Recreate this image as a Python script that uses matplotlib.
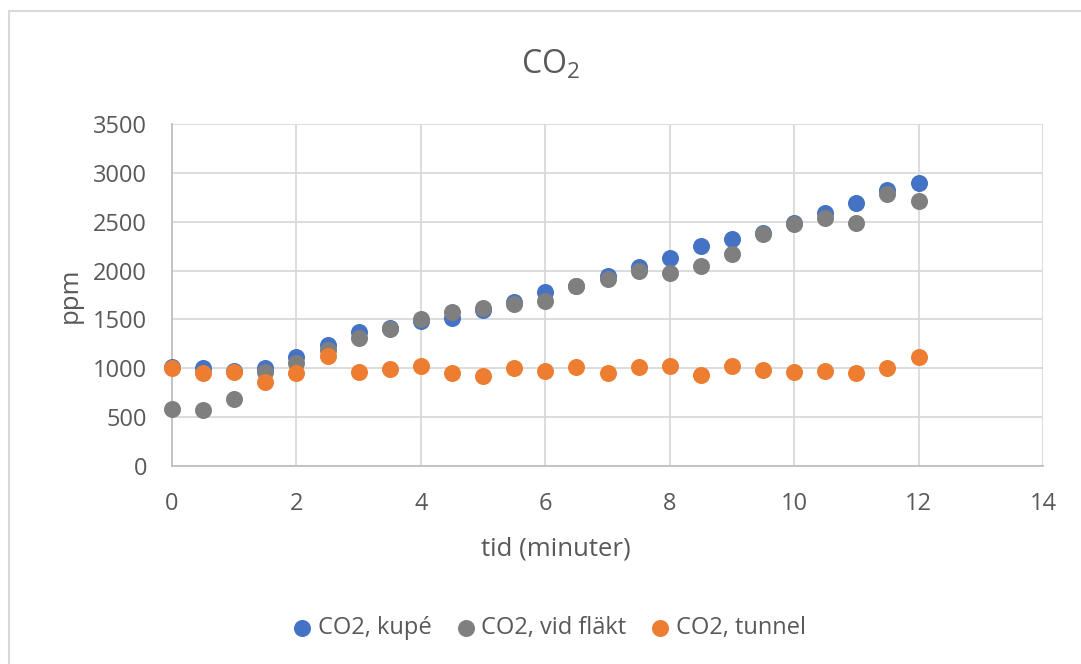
import numpy as np
import matplotlib
matplotlib.use("Agg")
import matplotlib.pyplot as plt
from matplotlib.patches import Rectangle

# time in minutes
tid = [0, 0.5, 1, 1.5, 2, 2.5, 3, 3.5, 4, 4.5, 5, 5.5, 6, 6.5,
       7, 7.5, 8, 8.5, 9, 9.5, 10, 10.5, 11, 11.5, 12]

# CO2 readings (ppm)
co2_kupe = [1010, 1000, 970, 1008, 1117, 1236, 1372, 1410, 1485, 1519, 1593, 1679, 1781, 1840,
            1944, 2036, 2132, 2251, 2325, 2380, 2482, 2591, 2690, 2826, 2894]
co2_flakt = [582, 572, 688, 964, 1049, 1185, 1311, 1406, 1502, 1574, 1614, 1655, 1685, 1839,
             1910, 1992, 1978, 2043, 2166, 2377, 2479, 2540, 2489, 2779, 2717]
co2_tunnel = [1008, 950, 964, 861, 950, 1127, 964, 994, 1022, 947, 923, 998, 970, 1015,
              947, 1015, 1025, 932, 1025, 981, 964, 970, 950, 998, 1117]

series_labels = ["CO2, kupé", "CO2, vid fläkt", "CO2, tunnel"]
x_ticks = np.arange(0, 15, 2)
y_ticks = np.arange(0, 3501, 500)

TEXT = "#595959"
plt.rcParams["font.family"] = ["Open Sans", "DejaVu Sans"]
plt.rcParams["mathtext.fontset"] = "custom"
plt.rcParams["mathtext.rm"] = "Open Sans"
plt.rcParams["mathtext.default"] = "regular"

W, H = 1081, 664
fig = plt.figure(figsize=(W / 100, H / 100), dpi=100)
ax = fig.add_axes([172 / W, 1 - 466 / H, (1043 - 172) / W, (466 - 124) / H])

# chart area border (only top/left visible in the reference)
fig.patches.append(Rectangle((9 / W, -0.5), 1.5, 1.5 - 11 / H, transform=fig.transFigure,
                             fill=False, edgecolor="#d9d9d9", linewidth=1.5, zorder=0))

colors = ["#4472C4", "#7F7F7F", "#ED7D31"]
for vals, lab, col in zip([co2_kupe, co2_flakt, co2_tunnel], series_labels, colors):
  ax.scatter(tid, vals, s=150, color=col, label=lab, linewidths=0, zorder=3, clip_on=False)

ax.set_xlim(0, 14)
ax.set_ylim(0, 3500)
ax.set_xticks(x_ticks)
ax.set_yticks(y_ticks)
ax.grid(True, color="#d9d9d9", linewidth=1.3)
ax.set_axisbelow(True)
for side in ["top", "right"]:
  ax.spines[side].set_visible(False)
for side in ["left", "bottom"]:
  ax.spines[side].set_color("#bfbfbf")
  ax.spines[side].set_linewidth(1.3)
ax.tick_params(length=0, labelsize=17, labelcolor=TEXT)
ax.tick_params(axis="x", pad=19)
ax.tick_params(axis="y", pad=18)

fig.text(550 / W, 1 - 74 / H, r"CO$_2$", fontsize=23, color=TEXT, ha="center", va="baseline")
fig.text(556 / W, 1 - 555 / H, "tid (minuter)", fontsize=18.5, color=TEXT, ha="center", va="baseline")
fig.text(70 / W, 1 - 295 / H, "ppm", fontsize=18.5, color=TEXT, ha="center", va="center", rotation=90)

fig.legend(loc="center", bbox_to_anchor=(550 / W, 1 - 628 / H), ncol=3, frameon=False,
           fontsize=17, labelcolor=TEXT, markerscale=1.0, scatterpoints=1,
           handlelength=0.7, handletextpad=0.3, columnspacing=1.1)

fig.savefig("out.png", dpi=100)
